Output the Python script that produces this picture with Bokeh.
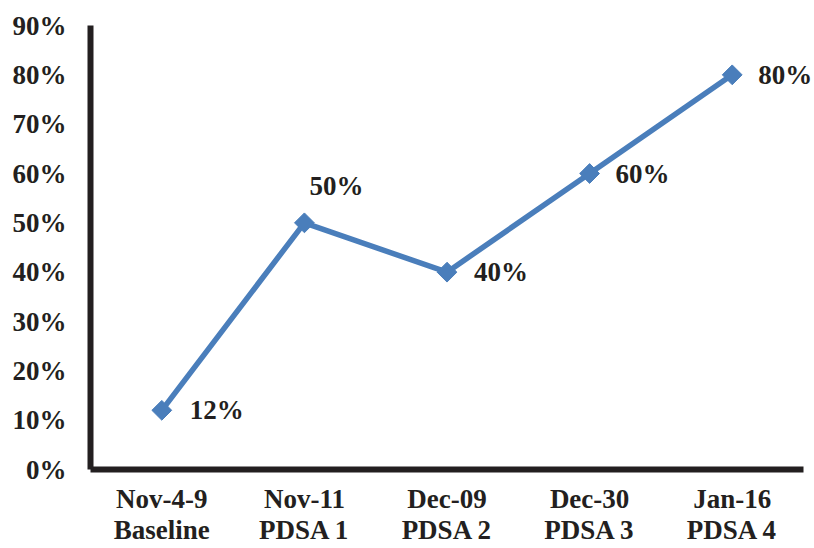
import math
from bokeh.plotting import figure
from bokeh.models import ColumnDataSource, LabelSet, Range1d, NumeralTickFormatter, FixedTicker
from bokeh.embed import file_html
from bokeh.resources import INLINE

categories = ["Nov-4-9\nBaseline", "Nov-11\nPDSA 1", "Dec-09\nPDSA 2", "Dec-30\nPDSA 3", "Jan-16\nPDSA 4"]
values = [0.12, 0.50, 0.40, 0.60, 0.80]
labels = ["12%", "50%", "40%", "60%", "80%"]
y_ticks = [0.0, 0.1, 0.2, 0.3, 0.4, 0.5, 0.6, 0.7, 0.8, 0.9]

# label placement (style)
label_dx = [28, 5, 27, 26, 26]
label_dy = [0, 37, 0, 0, 0]

FONT = "Liberation Serif"
TXT = "#231f20"
BLUE = "#4a7ebb"

n = len(categories)
xpos = [i + 0.5 for i in range(n)]  # category centres on the axis scale

src = ColumnDataSource(dict(x=xpos, y=values, text=labels, dx=label_dx, dy=label_dy))

p = figure(width=814, height=548, x_range=Range1d(0, n + 0.077),
           y_range=Range1d(0, 0.9), output_backend="svg", toolbar_location=None,
           min_border_left=90, min_border_right=0, min_border_top=25, min_border_bottom=78)
p.outline_line_color = None
p.grid.grid_line_color = None
p.background_fill_color = "white"
p.border_fill_color = "white"

p.line("x", "y", source=src, line_color=BLUE, line_width=5.5)
p.scatter("x", "y", source=src, marker="square", size=14, angle=math.pi / 4,
          fill_color=BLUE, line_color=BLUE)

ls = LabelSet(x="x", y="y", text="text", source=src, x_offset="dx", y_offset="dy",
              text_font=FONT, text_font_style="bold", text_font_size="27px",
              text_color=TXT, text_baseline="middle", text_align="left")
p.add_layout(ls)

for ax in (p.xaxis[0], p.yaxis[0]):
    ax.axis_line_width = 6
    ax.axis_line_color = TXT
    ax.major_tick_line_color = None
    ax.minor_tick_line_color = None
    ax.major_tick_out = 0
    ax.major_tick_in = 0
    ax.major_label_text_font = FONT
    ax.major_label_text_font_style = "bold"
    ax.major_label_text_font_size = "27px"
    ax.major_label_text_color = TXT

p.yaxis[0].ticker = FixedTicker(ticks=y_ticks)
p.yaxis[0].formatter = NumeralTickFormatter(format="0%")
p.yaxis[0].major_label_standoff = 24

p.xaxis[0].ticker = FixedTicker(ticks=xpos)
p.xaxis[0].major_label_overrides = {x: c for x, c in zip(xpos, categories)}
p.xaxis[0].bounds = (0, n)
p.xaxis[0].major_label_text_line_height = 1.05
p.xaxis[0].major_label_standoff = 14

open("out.html", "w").write(file_html(p, INLINE))
